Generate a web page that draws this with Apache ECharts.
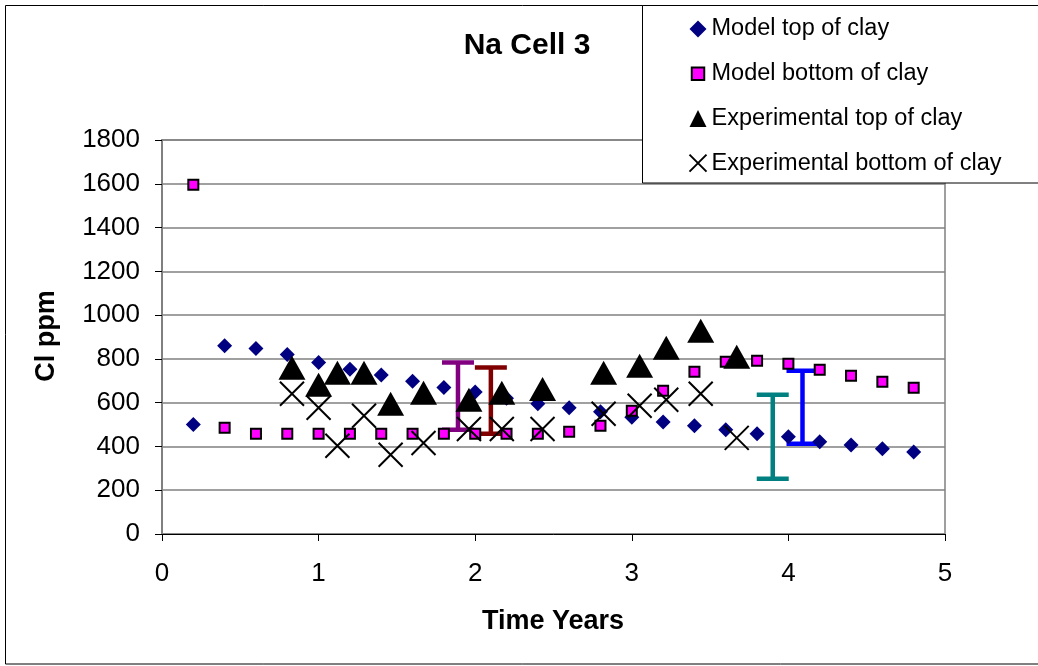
<!DOCTYPE html>
<html>
<head>
<meta charset="utf-8">
<script src="https://cdn.jsdelivr.net/npm/echarts@6/dist/echarts.min.js"></script>
<style>
  html, body { margin: 0; padding: 0; background: #fff; }
  #chart { width: 1038px; height: 666px; }
</style>
</head>
<body>
<div id="chart"></div>
<script>
// model runs, one point every 0.2 years
var modelTime = [0.2, 0.4, 0.6, 0.8, 1.0, 1.2, 1.4, 1.6, 1.8, 2.0, 2.2, 2.4,
                 2.6, 2.8, 3.0, 3.2, 3.4, 3.6, 3.8, 4.0, 4.2, 4.4, 4.6, 4.8];
var modelTop = [500, 860, 847, 820, 783, 753, 726, 698, 669, 649, 620, 595,
                577, 558, 533, 512, 494, 476, 458, 444, 421, 407, 389, 375];
var modelBottom = [1595, 485, 458, 458, 458, 458, 458, 458, 458, 458, 458, 458,
                   467, 494, 563, 655, 741, 787, 792, 778, 750, 723, 696, 668];

// measurements
var expTime = [0.83, 1.0, 1.12, 1.29, 1.46, 1.67, 1.96, 2.17, 2.43, 2.82, 3.05, 3.22, 3.44, 3.67];
var expTop = [760, 682, 737, 737, 595, 645, 613, 645, 663, 737, 769, 851, 929, 810];
var expBottom = [641, 577, 403, 540, 362, 416, 480, 480, 480, 549, 586, 613, 641, 439];

// range bars
var rangeTime = [1.89, 2.10, 3.90, 4.09];
var rangeLow = [476, 458, 252, 412];
var rangeHigh = [784, 761, 636, 746];
var rangeColors = ['#800080', '#800000', '#008080', '#0000ff'];

var seriesNames = ['Model top of clay', 'Model bottom of clay',
                   'Experimental top of clay', 'Experimental bottom of clay'];

function pairs(xs, ys) {
  return xs.map(function (x, i) { return [x, ys[i]]; });
}

var font = 'Liberation Sans, Arial, sans-serif';
var myChart = echarts.init(document.getElementById('chart'));

var option = {
  backgroundColor: '#fff',
  animation: false,
  textStyle: { fontFamily: font, color: '#000' },
  grid: {
    left: 162, right: 93, top: 140, bottom: 132,
    show: true,
    borderColor: '#808080',
    borderWidth: 1.5
  },
  legend: {
    orient: 'vertical',
    left: 687,
    top: 17,
    padding: 0,
    z: 10,
    itemWidth: 17,
    itemHeight: 17,
    itemGap: 20.7,
    textStyle: { fontSize: 23.5, color: '#000', fontFamily: font },
    data: [
      seriesNames[0],
      // smaller square in the key, padded out with empty points
      { name: seriesNames[1], icon: 'path://M0,0L0,0M2,2L13,2L13,13L2,13ZM15,15L15,15' },
      seriesNames[2],
      seriesNames[3]
    ]
  },
  graphic: [
    {
      type: 'rect', z: -10, silent: true,
      shape: { x: 5.5, y: 5.5, width: 1040, height: 658.5 },
      style: { fill: 'none', stroke: '#000', lineWidth: 1 }
    },
    {
      type: 'rect', z: 5, silent: true,
      shape: { x: 642.5, y: 5.5, width: 400, height: 177.5 },
      style: { fill: '#fff', stroke: '#000', lineWidth: 1 }
    },
    {
      type: 'text', z: 5, x: 527, y: 46,
      style: { text: 'Na Cell 3', font: 'bold 30px ' + font, fill: '#000',
               textAlign: 'center', textVerticalAlign: 'middle' }
    },
    {
      type: 'text', z: 5, x: 553, y: 622,
      style: { text: 'Time Years', font: 'bold 27px ' + font, fill: '#000',
               textAlign: 'center', textVerticalAlign: 'middle' }
    },
    {
      type: 'text', z: 5, x: 47, y: 336, rotation: Math.PI / 2,
      style: { text: 'Cl ppm', font: 'bold 27px ' + font, fill: '#000',
               textAlign: 'center', textVerticalAlign: 'middle' }
    }
  ],
  xAxis: {
    type: 'value',
    min: 0, max: 5, interval: 1,
    axisLine: { show: true, lineStyle: { color: '#000', width: 1 } },
    axisTick: { show: true, length: 7, lineStyle: { color: '#000' } },
    axisLabel: { fontSize: 26, color: '#000', margin: 27, fontFamily: font },
    splitLine: { show: false }
  },
  yAxis: {
    type: 'value',
    min: 0, max: 1800, interval: 200,
    axisLine: { show: true, lineStyle: { color: '#808080', width: 2 } },
    axisTick: { show: true, length: 7, lineStyle: { color: '#000' } },
    axisLabel: {
      fontSize: 26, color: '#000', margin: 22, fontFamily: font,
      formatter: function (v) { return String(v); }
    },
    splitLine: { show: true, lineStyle: { color: '#808080', width: 1.5 } }
  },
  series: [
    {
      type: 'custom',
      name: 'range',
      data: rangeTime.map(function (t, i) { return [t, rangeLow[i], rangeHigh[i]]; }),
      renderItem: function (params, api) {
        var lo = api.coord([api.value(0), api.value(1)]);
        var hi = api.coord([api.value(0), api.value(2)]);
        var c = rangeColors[params.dataIndex];
        var half = 16;
        var st = { stroke: c, lineWidth: 4.5 };
        return {
          type: 'group',
          children: [
            { type: 'line', shape: { x1: lo[0], y1: lo[1], x2: hi[0], y2: hi[1] }, style: st },
            { type: 'line', shape: { x1: lo[0] - half, y1: lo[1], x2: lo[0] + half, y2: lo[1] }, style: st },
            { type: 'line', shape: { x1: hi[0] - half, y1: hi[1], x2: hi[0] + half, y2: hi[1] }, style: st }
          ]
        };
      },
      z: 1
    },
    {
      name: seriesNames[0],
      type: 'scatter',
      symbol: 'diamond',
      symbolSize: 15,
      itemStyle: { color: '#000080', opacity: 1 },
      data: pairs(modelTime, modelTop),
      z: 2
    },
    {
      name: seriesNames[1],
      type: 'scatter',
      symbol: 'rect',
      symbolSize: 10,
      itemStyle: { color: '#ff00ff', borderColor: '#000', borderWidth: 2, opacity: 1 },
      data: pairs(modelTime, modelBottom),
      z: 3
    },
    {
      name: seriesNames[2],
      type: 'scatter',
      symbol: 'triangle',
      symbolSize: [27, 24],
      itemStyle: { color: '#000', opacity: 1 },
      data: pairs(expTime, expTop),
      z: 4
    },
    {
      name: seriesNames[3],
      type: 'scatter',
      symbol: 'path://M0,0L10,10M10,0L0,10',
      symbolSize: 24,
      itemStyle: { color: 'none', borderColor: '#000', borderWidth: 2, opacity: 1 },
      data: pairs(expTime, expBottom),
      z: 4
    }
  ]
};

myChart.setOption(option);
</script>
</body>
</html>
